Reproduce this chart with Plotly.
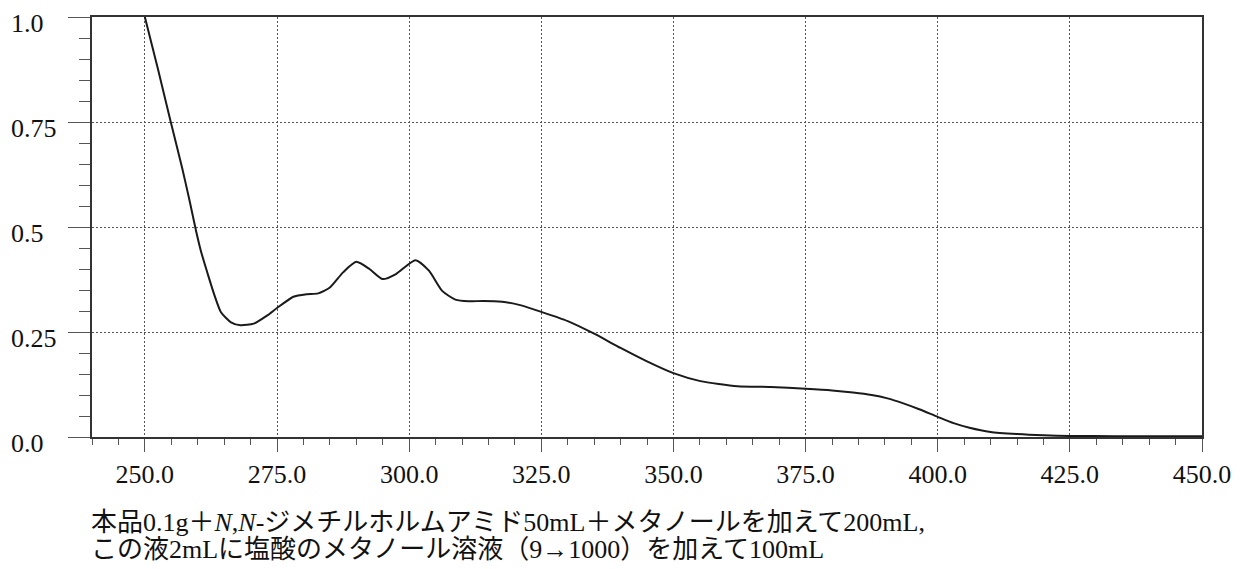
import plotly.graph_objects as go

# UV spectrum
wavelength = [250, 252.5, 254.9, 257.1, 258.4, 259.7, 260.6, 261.9, 263.1, 264.4,
              266.3, 268.1, 270.6, 273.1, 275.0, 278.1, 280.6, 282.8, 285.0, 287.5,
              290.0, 292.5, 295.0, 297.5, 301.2, 303.75, 306.25, 308.75, 311.25, 314.0,
              317.6, 321.0, 325.0, 330.0, 335.0, 340.0, 345.0, 350.0, 355.1, 362.1,
              368.4, 375.0, 380.0, 384.0, 387.5, 390.5, 393.5, 396.5, 400.0, 403.0,
              406.0, 410.0, 415.0, 420.0, 425.0, 433.5, 450.0]
absorbance = [1.0, 0.875, 0.75, 0.638, 0.566, 0.49, 0.443, 0.388, 0.34, 0.297,
              0.273, 0.266, 0.27, 0.289, 0.307, 0.334, 0.340, 0.342, 0.356, 0.392,
              0.417, 0.400, 0.376, 0.388, 0.421, 0.396, 0.348, 0.327, 0.323, 0.324,
              0.322, 0.314, 0.298, 0.276, 0.246, 0.212, 0.180, 0.152, 0.133, 0.121,
              0.119, 0.115, 0.111, 0.106, 0.100, 0.092, 0.080, 0.066, 0.048, 0.033,
              0.022, 0.012, 0.007, 0.004, 0.0025, 0.002, 0.002]

x_ticks = [250, 275, 300, 325, 350, 375, 400, 425, 450]
x_labels = ["250.0", "275.0", "300.0", "325.0", "350.0", "375.0", "400.0", "425.0", "450.0"]
y_ticks = [0, 0.25, 0.5, 0.75, 1.0]
y_labels = ["0.0", "0.25", "0.5", "0.75", "1.0"]

caption = [
    "本品0.1g＋<i>N</i>,<i>N</i>-ジメチルホルムアミド50mL＋メタノールを加えて200mL,",
    "この液2mLに塩酸のメタノール溶液（9→1000）を加えて100mL",
]

FONT = "Liberation Serif, Noto Sans CJK JP, serif"
GRID = "#555"

fig = go.Figure(
    go.Scatter(
        x=wavelength, y=absorbance, mode="lines",
        line=dict(color="#1a1a1a", width=2, shape="spline", smoothing=0.6),
        hoverinfo="skip",
    )
)

fig.update_xaxes(
    range=[240, 450], tickvals=x_ticks, ticktext=x_labels,
    showline=True, linecolor="#333", linewidth=1.5, mirror=True,
    ticks="outside", ticklen=13, tickcolor="#555", tickwidth=1,
    showgrid=True, gridcolor=GRID, gridwidth=1, griddash="2px,2px",
    minor=dict(tick0=240, dtick=5, ticks="outside", ticklen=6, tickcolor="#555", showgrid=False),
    tickfont=dict(family=FONT, size=26, color="#111"),
    zeroline=False,
)
fig.update_yaxes(
    range=[0, 1], tickvals=y_ticks, showticklabels=False,
    showline=True, linecolor="#333", linewidth=1.5, mirror=True,
    ticks="outside", ticklen=22, tickcolor="#555", tickwidth=1,
    showgrid=True, gridcolor=GRID, gridwidth=1, griddash="2px,2px",
    minor=dict(tick0=0, dtick=0.05, ticks="outside", ticklen=11, tickcolor="#555", showgrid=False),
    zeroline=False,
)

# y labels are left-aligned in the original, so place them as annotations
for v, t in zip(y_ticks, y_labels):
    fig.add_annotation(
        text=t, xref="paper", x=(9 - 92) / 1110, xanchor="left",
        yref="y", y=v, yanchor="middle", yshift=-6, showarrow=False,
        font=dict(family=FONT, size=26, color="#111"),
    )

for i, line in enumerate(caption):
    fig.add_annotation(
        text=line, xref="paper", x=(89 - 92) / 1110, xanchor="left",
        yref="paper", y=(437 - (523 + 27 * i)) / 422, yanchor="middle", showarrow=False,
        font=dict(family=FONT, size=26, color="#111"),
    )

# page body adds an 8px margin, so the figure is 8px smaller each way
fig.update_layout(
    width=1237, height=561,
    margin=dict(l=84, r=43, t=7, b=132),
    plot_bgcolor="white", paper_bgcolor="white",
    showlegend=False,
)

fig.write_html("out.html")
